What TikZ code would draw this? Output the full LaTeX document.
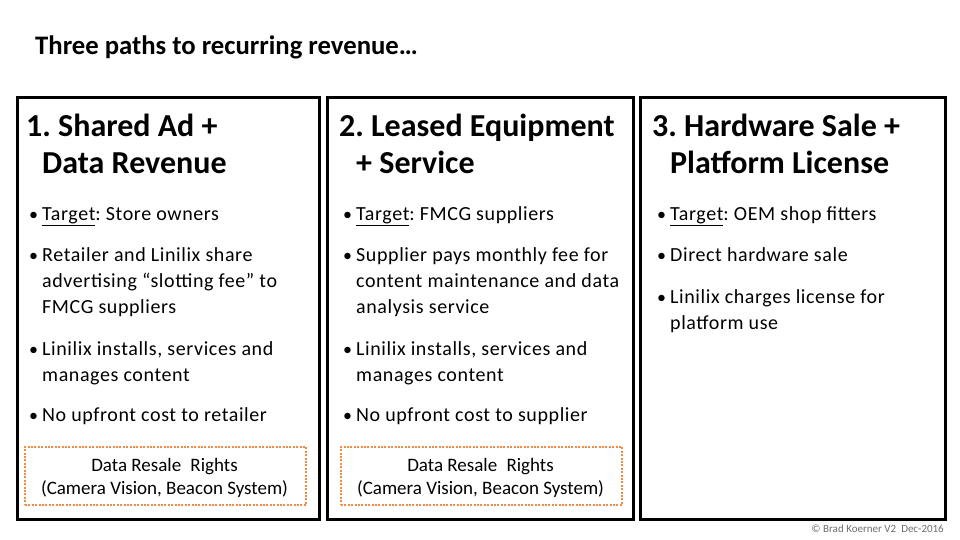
\documentclass[tikz,border=0pt]{standalone}
\usepackage{fontspec}
\setmainfont{Carlito}
\newfontfamily\bodyfont[LetterSpace=3]{Carlito}
\frenchspacing
\definecolor{accorange}{RGB}{240,140,70}
\definecolor{copygray}{RGB}{110,110,110}
\begin{document}
\frenchspacing
\begin{tikzpicture}[x=1pt,y=-1pt,
  panel/.style={draw=black, line width=3pt, anchor=north west, inner sep=0pt},
  rights/.style={draw=accorange, line width=2pt, dash pattern=on 2pt off 1.4pt, anchor=north west, inner sep=0pt},
  head/.style={anchor=base west, inner sep=0pt, font=\fontsize{32}{38}\selectfont\bfseries},
  txt/.style={anchor=base west, inner sep=0pt, font=\bodyfont\fontsize{20}{24}\selectfont},
  bul/.style={anchor=base west, inner sep=0pt, font=\fontsize{18}{22}\selectfont},
  small/.style={anchor=base, inner sep=0pt, font=\fontsize{19}{23}\selectfont}]
\useasboundingbox (0,0) rectangle (960,540);
\fill[white] (0,0) rectangle (960,540);
\node[anchor=base west, inner sep=0pt, font=\fontsize{26.7}{30}\selectfont\bfseries] (title) at (35,55) {Three paths to recurring revenue…};
% panels
\node[panel, minimum width=302pt, minimum height=422pt] (p1) at (16,96) {};
\node[panel, minimum width=306pt, minimum height=422pt] (p2) at (326,96) {};
\node[panel, minimum width=305pt, minimum height=422pt] (p3) at (639,96) {};
% panel 1
\node[head] (h1a) at (26,137) {1. Shared Ad +};
\node[head] (h1b) at (42,174) {Data Revenue};
\node[bul] (b1a) at (29,220) {•};
\node[txt] (t1a) at (42,220) {\underline{Target}: Store owners};
\node[bul] (b1b) at (29,261) {•};
\node[txt] (t1b) at (42,261) {Retailer and Linilix share};
\node[txt] (t1c) at (42,287) {advertising “slotting fee” to};
\node[txt] (t1d) at (42,313) {FMCG suppliers};
\node[bul] (b1c) at (29,355) {•};
\node[txt] (t1e) at (42,355) {Linilix installs, services and};
\node[txt] (t1f) at (42,381) {manages content};
\node[bul] (b1d) at (29,421) {•};
\node[txt] (t1g) at (42,421) {No upfront cost to retailer};
\node[rights, minimum width=281pt, minimum height=58pt] (r1) at (24,446) {};
\node[small] (r1a) at (164.5,471) {Data Resale\hspace{5pt} Rights};
\node[small] (r1b) at (164.5,494) {(Camera Vision, Beacon System)};
% panel 2
\node[head] (h2a) at (339,137) {2. Leased Equipment};
\node[head] (h2b) at (356,174) {+ Service};
\node[bul] (b2a) at (343,220) {•};
\node[txt] (t2a) at (356,220) {\underline{Target}: FMCG suppliers};
\node[bul] (b2b) at (343,261) {•};
\node[txt] (t2b) at (356,261) {Supplier pays monthly fee for};
\node[txt] (t2c) at (356,287) {content maintenance and data};
\node[txt] (t2d) at (356,313) {analysis service};
\node[bul] (b2c) at (343,355) {•};
\node[txt] (t2e) at (356,355) {Linilix installs, services and};
\node[txt] (t2f) at (356,381) {manages content};
\node[bul] (b2d) at (343,421) {•};
\node[txt] (t2g) at (356,421) {No upfront cost to supplier};
\node[rights, minimum width=281pt, minimum height=58pt] (r2) at (340,446) {};
\node[small] (r2a) at (480.5,471) {Data Resale\hspace{5pt} Rights};
\node[small] (r2b) at (480.5,494) {(Camera Vision, Beacon System)};
% panel 3
\node[head] (h3a) at (652,137) {3. Hardware Sale +};
\node[head] (h3b) at (670,174) {Platform License};
\node[bul] (b3a) at (657,220) {•};
\node[txt] (t3a) at (670,220) {\underline{Target}: OEM shop fitters};
\node[bul] (b3b) at (657,261) {•};
\node[txt] (t3b) at (670,261) {Direct hardware sale};
\node[bul] (b3c) at (657,303) {•};
\node[txt] (t3c) at (670,303) {Linilix charges license for};
\node[txt] (t3d) at (670,329) {platform use};
% copyright
\node[anchor=base east, inner sep=0pt, text=copygray, font=\fontsize{11}{13}\selectfont] (copy) at (944,532) {© Brad Koerner V2\ \ Dec-2016};
\end{tikzpicture}
\end{document}
